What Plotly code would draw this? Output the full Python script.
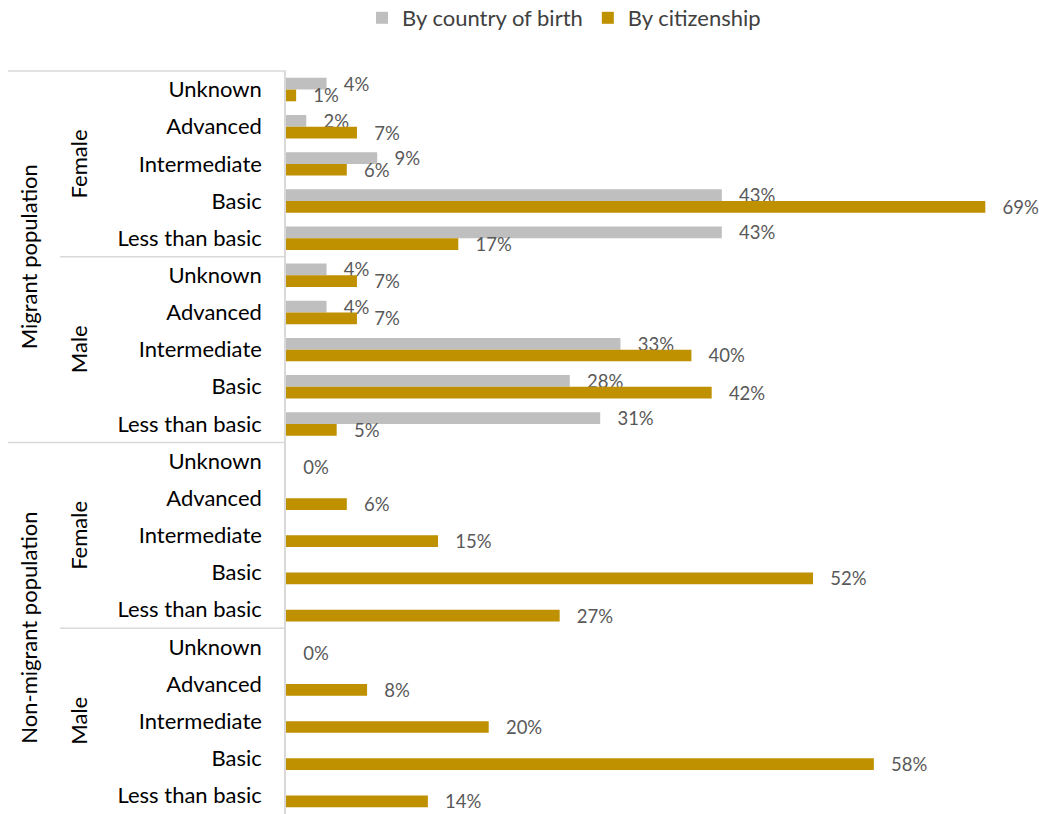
import plotly.graph_objects as go

populations = ["Migrant population", "Non-migrant population"]
sexes = ["Female", "Male"]
education = ["Unknown", "Advanced", "Intermediate", "Basic", "Less than basic"]

# values in %, ordered: Migrant-Female, Migrant-Male, NonMigrant-Female, NonMigrant-Male; each top->bottom as in education
by_birth_migrant_female = [4, 2, 9, 43, 43]
by_birth_migrant_male = [4, 4, 33, 28, 31]
by_birth_nonmigrant_female = [None, None, None, None, None]
by_birth_nonmigrant_male = [None, None, None, None, None]

by_cit_migrant_female = [1, 7, 6, 69, 17]
by_cit_migrant_male = [7, 7, 40, 42, 5]
by_cit_nonmigrant_female = [0, 6, 15, 52, 27]
by_cit_nonmigrant_male = [0, 8, 20, 58, 14]

series_names = ["By country of birth", "By citizenship"]
colors = ["#BFBFBF", "#BF9000"]

birth = by_birth_migrant_female + by_birth_migrant_male + by_birth_nonmigrant_female + by_birth_nonmigrant_male
cit = by_cit_migrant_female + by_cit_migrant_male + by_cit_nonmigrant_female + by_cit_nonmigrant_male

n = len(populations) * len(sexes) * len(education)
ypos = list(range(n))
ticktext = education * (len(populations) * len(sexes))

FONT = "Lato"
NB = "\u00a0"
TXT = 22


def labels(vals):
    return [("" if v is None else NB * 3 + f"{v}%") for v in vals]


fig = go.Figure()
for name, vals, col in zip(series_names, [birth, cit], colors):
    fig.add_trace(go.Bar(
        y=ypos, x=[None if v is None else v / 100 for v in vals], orientation="h",
        name=name, marker=dict(color=col, line=dict(width=0)),
        text=labels(vals), textposition="outside", constraintext="none",
        cliponaxis=False, textfont=dict(family=FONT, size=18.5, color="#595959"),
        hoverinfo="x+name",
    ))

L, R, T, B = 286, 3, 71, 0
W, H = 1039, 814
plot_w = W - L - R
plot_h = H - T - B

fig.update_layout(
    width=W, height=H,
    margin=dict(l=L, r=R, t=T, b=B, pad=0, autoexpand=False),
    barmode="group", bargap=0.37, bargroupgap=0,
    plot_bgcolor="white", paper_bgcolor="white",
    font=dict(family=FONT, size=TXT, color="#000000"),
    legend=dict(orientation="h", x=564 / W, xref="container", xanchor="center",
                y=1 - 18 / H, yref="container", yanchor="middle",
                font=dict(family=FONT, size=TXT, color="#404040"),
                itemwidth=30, traceorder="normal"),
    xaxis=dict(range=[0, 0.74], visible=False, showgrid=False, zeroline=False, automargin=False),
    yaxis=dict(range=[n - 0.5, -0.5], tickmode="array", tickvals=ypos, ticktext=ticktext,
               showgrid=False, zeroline=False, showline=True, linecolor="#D9D9D9", linewidth=1.5,
               ticks="", ticklabelstandoff=18, automargin=False,
               tickfont=dict(family=FONT, size=TXT, color="#000000")),
)


def ypaper(idx):
    # paper coordinate for category boundary idx-0.5 (reversed axis)
    return 1 - idx / n


line_col = "#D9D9D9"
x_outer = -(L - 8) / plot_w
x_inner = -(L - 60) / plot_w
group = len(education)
for pi in range(len(populations)):
    start = pi * len(sexes) * group
    fig.add_shape(type="line", xref="paper", yref="paper", x0=x_outer, x1=0,
                  y0=ypaper(start), y1=ypaper(start), line=dict(color=line_col, width=1.5))
    for si in range(1, len(sexes)):
        b = start + si * group
        fig.add_shape(type="line", xref="paper", yref="paper", x0=x_inner, x1=0,
                      y0=ypaper(b), y1=ypaper(b), line=dict(color=line_col, width=1.5))
    center = start + (len(sexes) * group - 1) / 2
    fig.add_annotation(x=0, xref="paper", xshift=-(L - 13), y=center, yref="y",
                       text=populations[pi], textangle=-90, showarrow=False,
                       font=dict(family=FONT, size=TXT, color="#000000"))
    for si, s in enumerate(sexes):
        c = start + si * group + (group - 1) / 2
        fig.add_annotation(x=0, xref="paper", xshift=-(L - 63), y=c, yref="y",
                           text=s, textangle=-90, showarrow=False,
                           font=dict(family=FONT, size=TXT, color="#000000"))

fig.write_html("out.html", config={"displayModeBar": False},
               post_script="document.body.style.margin='0';document.body.style.overflow='hidden';")
